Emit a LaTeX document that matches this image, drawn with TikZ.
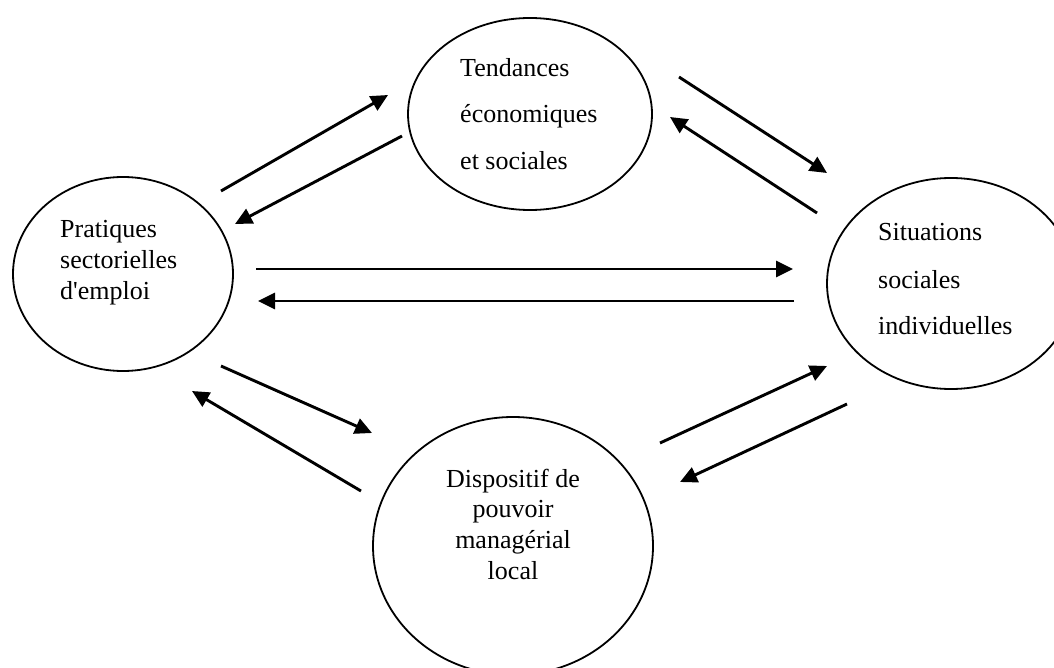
\documentclass[tikz,border=0pt]{standalone}
\usepackage{fontspec}
\setmainfont{Liberation Serif}
\usetikzlibrary{shapes.geometric,arrows.meta}
\tikzset{
  oval/.style={ellipse, draw, line width=1.8pt, inner sep=0pt},
  txt/.style={font=\fontsize{26}{30}\selectfont, inner sep=0pt, anchor=base west},
  ctxt/.style={font=\fontsize{26}{30}\selectfont, inner sep=0pt, anchor=base},
  arr/.style={line width=2.9pt, -{Triangle[length=17pt,width=16pt]}}
}
\begin{document}
\begin{tikzpicture}[x=1pt,y=-1pt]
\useasboundingbox[fill=white] (0,0) rectangle (1054,668);
% ellipses
\node[oval, minimum width=220pt, minimum height=194pt] (L) at (123,274) {};
\node[oval, minimum width=244pt, minimum height=192pt] (T) at (530,114) {};
\node[oval, minimum width=248pt, minimum height=211pt] (R) at (951,283.5) {};
\node[oval, minimum width=280pt, minimum height=258pt] (B) at (513,546) {};
% texts
\node[txt] (L1) at (60,238) {Pratiques};
\node[txt] (L2) at (60,269) {sectorielles};
\node[txt] (L3) at (60,299) {d\textquotesingle emploi};
\node[txt] (T1) at (460,77) {Tendances};
\node[txt] (T2) at (460,123) {économiques};
\node[txt] (T3) at (460,170) {et sociales};
\node[txt] (R1) at (878,241) {Situations};
\node[txt] (R2) at (878,288) {sociales};
\node[txt] (R3) at (878,334) {individuelles};
\node[ctxt] (B1) at (513,487) {Dispositif de};
\node[ctxt] (B2) at (513,517) {pouvoir};
\node[ctxt] (B3) at (513,548) {managérial};
\node[ctxt] (B4) at (513,579) {local};
% arrow end points
\coordinate (a1s) at (221,191); \coordinate (a1e) at (388,95);
\coordinate (a2s) at (402,136); \coordinate (a2e) at (235,224);
\coordinate (a3s) at (679,77);  \coordinate (a3e) at (827,173);
\coordinate (a4s) at (817,213); \coordinate (a4e) at (670,117);
\coordinate (a5s) at (256,269); \coordinate (a5e) at (793,269);
\coordinate (a6s) at (794,301); \coordinate (a6e) at (258,301);
\coordinate (a7s) at (660,443); \coordinate (a7e) at (827,366);
\coordinate (a8s) at (847,404); \coordinate (a8e) at (680,482);
\coordinate (a9s) at (221,366); \coordinate (a9e) at (372,433);
\coordinate (a10s) at (361,491); \coordinate (a10e) at (192,391);
\foreach \i in {1,...,10} \draw[arr] (a\i s) -- (a\i e);
\end{tikzpicture}
\end{document}
